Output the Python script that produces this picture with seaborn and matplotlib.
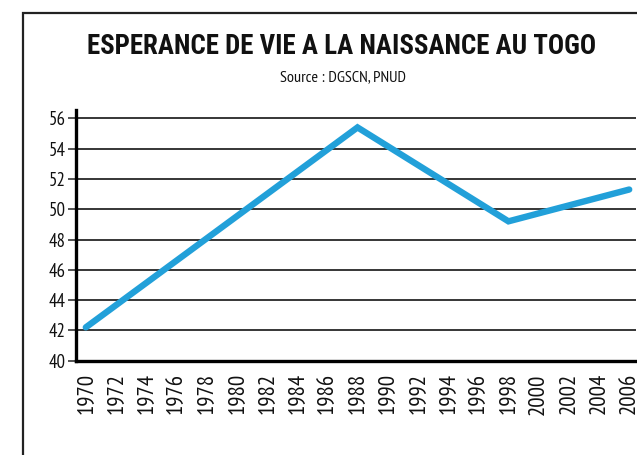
import matplotlib
matplotlib.use("Agg")
import matplotlib.pyplot as plt
import seaborn as sns
import pandas as pd
from matplotlib.patches import Rectangle

years = [1970, 1988, 1998, 2006]
life_expectancy = [42.2, 55.4, 49.2, 51.3]
xtick_years = list(range(1970, 2007, 2))
yticks = [40, 42, 44, 46, 48, 50, 52, 54, 56]
title = "ESPERANCE DE VIE A LA NAISSANCE AU TOGO"
subtitle = "Source : DGSCN, PNUD"

sns.set_style("white")
plt.rcParams["font.family"] = ["PT Sans Narrow", "Roboto Condensed", "DejaVu Sans"]
title_family = ["Roboto Condensed", "Open Sans Condensed", "DejaVu Sans"]

df = pd.DataFrame({"year": years, "value": life_expectancy})

fig = plt.figure(figsize=(6.37, 4.55), dpi=100)
W, H = 637, 455
ax = fig.add_axes([75.7 / W, 1 - 360.7 / H, (636 - 75.7) / W, (360.7 - 110) / H])

sns.lineplot(data=df, x="year", y="value", ax=ax, color="#22A0D9",
             linewidth=4.6, solid_capstyle="round", solid_joinstyle="miter")

ax.set_xlim(1969.33, 2006.45)
ax.set_ylim(40, 56.55)
ax.set_yticks(yticks)
ax.set_xticks(xtick_years)
ax.set_xticklabels([str(y) for y in xtick_years], rotation=90, fontsize=16.5, color="#111111")
ax.set_yticklabels([str(v) for v in yticks], fontsize=13.5, color="#111111")
ax.set_xlabel("")
ax.set_ylabel("")

ax.grid(axis="y", color="black", linewidth=1.1)
ax.grid(axis="x", visible=False)
ax.set_axisbelow(True)
for s in ["top", "right"]:
    ax.spines[s].set_visible(False)
for s in ["left", "bottom"]:
    ax.spines[s].set_linewidth(2.4)
    ax.spines[s].set_color("black")
ax.tick_params(axis="y", length=5.5, width=1.1, direction="out", pad=1.5, left=True)
ax.tick_params(axis="x", length=0, pad=9)

fig.text(341.5 / W, 1 - 46 / H, title, ha="center", va="center",
         fontsize=19.4, fontweight="bold", color="#111111", family=title_family)
fig.text(343 / W, 1 - 77 / H, subtitle, ha="center", va="center",
         fontsize=11.7, color="#111111")

fig.patches.append(Rectangle((22.7 / W, -0.1), 1.2, 1.1 - 13.3 / H,
                             transform=fig.transFigure, fill=False,
                             edgecolor="#222222", linewidth=1.6, zorder=0))

fig.savefig("out.png", dpi=100)
